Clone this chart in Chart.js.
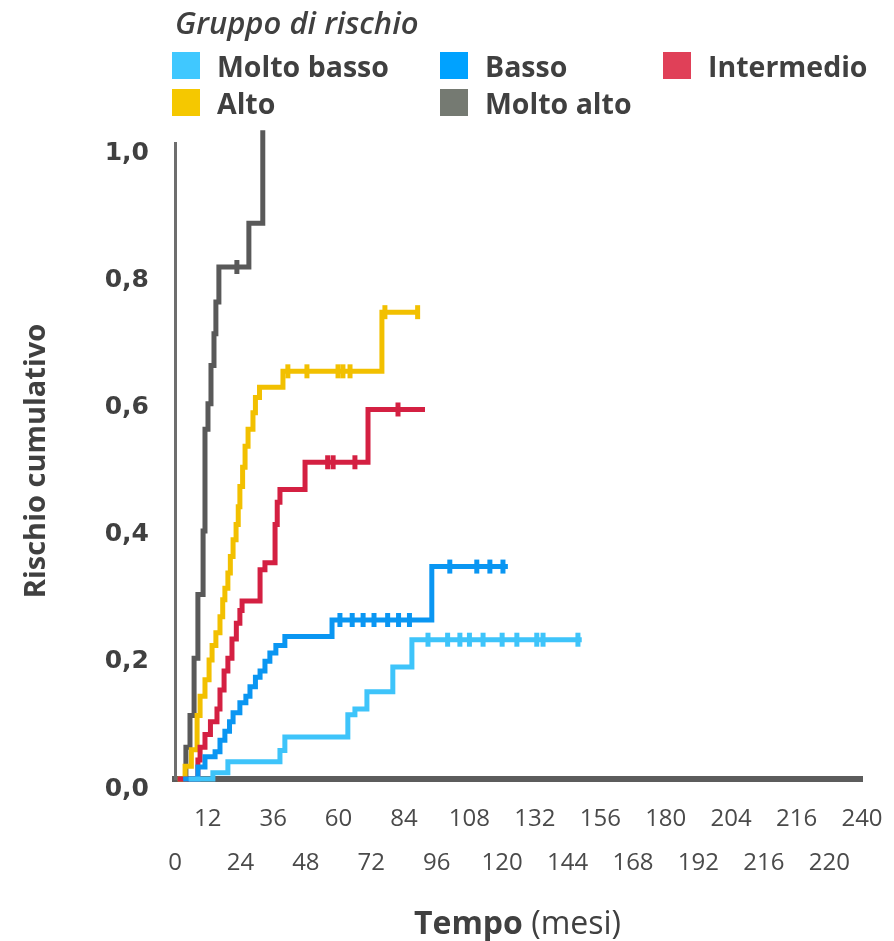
<!DOCTYPE html>
<html>
<head>
<meta charset="utf-8">
<script src="https://cdn.jsdelivr.net/npm/chart.js@4.4.1/dist/chart.umd.min.js"></script>
<style>
  body { margin: 0; background: #fff; font-family: 'Open Sans', sans-serif; color: #404040; }
  #wrap { position: relative; width: 894px; height: 941px; }
  canvas { position: absolute; left: 0; top: 0; }
  .legTitle { position: absolute; left: 175px; top: 0px; font-style: italic; font-weight: 600; font-size: 31px; line-height: 44px; }
  .item { position: absolute; font-weight: 700; font-size: 28.5px; height: 27px; display: flex; align-items: center; white-space: nowrap; }
  .sw { width: 28px; height: 27px; margin-right: 17px; flex: none; }
  #xtitle { position: absolute; left: 414px; top: 900px; font-size: 32px; line-height: 44px; white-space: nowrap; }
</style>
</head>
<body>
<div id="wrap">
  <canvas id="riskChart" width="894" height="941"></canvas>
  <div class="legTitle">Gruppo di rischio</div>
  <div id="legend"></div>
  <div id="xtitle"><b>Tempo</b> (mesi)</div>
</div>
<script>
// risk groups
const groups = ['Molto basso', 'Basso', 'Intermedio', 'Alto', 'Molto alto'];
const lineColors = ['#3ec4fa', '#0a96f2', '#d42042', '#f2c000', '#595959'];
const legendColors = ['#40c8ff', '#00a2ff', '#e04058', '#f5c800', '#757a72'];

// months / cumulative risk (step points)
const moltoBassoMesi = [5, 13.9, 19.4, 38.5, 40.3, 63.4, 66, 70.4, 79.9, 86.9, 149.2];
const moltoBassoRischio = [0, 0.01, 0.027, 0.045, 0.066, 0.101, 0.11, 0.137, 0.176, 0.219, 0.219];
const bassoMesi = [3, 8.4, 11, 14.7, 16.5, 18.3, 20, 21.3, 23.8, 26, 27.5, 29.5, 31.2, 33, 34.8, 37, 40.3, 57.6, 94.2, 122.1];
const bassoRischio = [0, 0.019, 0.035, 0.043, 0.061, 0.075, 0.09, 0.104, 0.12, 0.13, 0.145, 0.16, 0.17, 0.185, 0.198, 0.21, 0.224, 0.25, 0.334, 0.334];
const intermedioMesi = [1, 8.4, 9.2, 11, 13, 15.4, 16.5, 18, 19.4, 20.9, 22.5, 23.8, 24.6, 31.2, 33, 36.7, 37.5, 38.5, 47.7, 70.8, 91.7];
const intermedioRischio = [0, 0.03, 0.05, 0.07, 0.09, 0.11, 0.14, 0.17, 0.19, 0.22, 0.245, 0.265, 0.28, 0.329, 0.34, 0.40, 0.435, 0.455, 0.498, 0.581, 0.581];
const altoMesi = [1, 3.7, 6, 8.1, 9.2, 11, 12.5, 13.6, 15, 16.5, 17.5, 18.3, 19.4, 20.3, 21.3, 22.4, 23.2, 23.8, 24.8, 25.7, 26.8, 28.6, 29.5, 31, 39.6, 75.9, 89.8];
const altoRischio = [0, 0.02, 0.046, 0.1, 0.13, 0.156, 0.187, 0.21, 0.23, 0.255, 0.282, 0.30, 0.324, 0.35, 0.376, 0.40, 0.428, 0.46, 0.49, 0.523, 0.55, 0.576, 0.60, 0.616, 0.641, 0.734, 0.734];
const moltoAltoMesi = [1.5, 4, 5.5, 7, 8.4, 10.3, 11, 12.1, 13.2, 14.3, 15, 16.1, 27.1, 32.2];
const moltoAltoRischio = [0, 0.05, 0.1, 0.19, 0.29, 0.39, 0.55, 0.59, 0.65, 0.70, 0.75, 0.805, 0.874, 1.02];

// censored observations (months)
const moltoBassoCens = [92.8, 100, 104.5, 108, 113, 120, 125.4, 132.7, 135, 147.8];
const bassoCens = [60.5, 65, 69, 73, 78, 82, 86, 100.8, 110.7, 115.5, 120.3];
const intermedioCens = [56, 58, 66, 81.8];
const altoCens = [41.4, 48.4, 59.8, 61.6, 64.2, 77, 89];
const moltoAltoCens = [22.7];

const xTickLabels = ['0', '12', '24', '36', '48', '60', '72', '84', '96', '108', '120', '132', '144', '156', '168', '180', '192', '204', '216', '216', '220', '240'];
const yTickLabels = ['0,0', '0,2', '0,4', '0,6', '0,8', '1,0'];

const series = [
  [moltoBassoMesi, moltoBassoRischio, moltoBassoCens],
  [bassoMesi, bassoRischio, bassoCens],
  [intermedioMesi, intermedioRischio, intermedioCens],
  [altoMesi, altoRischio, altoCens],
  [moltoAltoMesi, moltoAltoRischio, moltoAltoCens]
];

function stepValue(ts, vs, t) {
  let v = vs[0];
  for (let i = 0; i < ts.length; i++) if (ts[i] <= t) v = vs[i];
  return v;
}

const datasets = [];
series.forEach((s, k) => {
  datasets.push({
    label: groups[k],
    data: s[0].map((t, i) => ({ x: t, y: s[1][i] })),
    borderColor: lineColors[k],
    borderWidth: 5,
    stepped: 'before', // horizontal first, then jump
    pointRadius: 0,
    fill: false,
    clip: false
  });
  datasets.push({
    label: groups[k] + ' censurati',
    data: s[2].map(t => ({ x: t, y: stepValue(s[0], s[1], t) })),
    showLine: false,
    pointStyle: 'line',
    rotation: 90,
    pointRadius: 7,
    borderWidth: 5,
    borderColor: lineColors[k],
    clip: false
  });
});

// legend
const legPos = [[172, 52], [440, 52], [663, 52], [172, 89], [440, 89]];
const leg = document.getElementById('legend');
groups.forEach((g, k) => {
  const d = document.createElement('div');
  d.className = 'item';
  d.style.left = legPos[k][0] + 'px';
  d.style.top = legPos[k][1] + 'px';
  d.innerHTML = '<span class="sw" style="background:' + legendColors[k] + '"></span>' + g;
  leg.appendChild(d);
});

const ctx = document.getElementById('riskChart');
new Chart(ctx, {
  type: 'line',
  data: { datasets: datasets },
  options: {
    responsive: false,
    animation: false,
    layout: { padding: { top: 143, right: 32, left: 0, bottom: 0 } },
    plugins: { legend: { display: false }, tooltip: { enabled: false } },
    scales: {
      x: {
        type: 'linear',
        min: 0,
        max: 252,
        grid: { display: false },
        border: { display: true, color: '#5c5c5c', width: 6 },
        afterFit: s => { s.height = 162; },
        ticks: {
          stepSize: 12,
          autoSkip: false,
          maxRotation: 0,
          padding: 11,
          color: '#4a4a4a',
          font: { family: 'Open Sans', size: 24, lineHeight: 1.8 },
          callback: (v, i) => i % 2 === 0 ? ['', xTickLabels[i]] : [xTickLabels[i], '']
        }
      },
      y: {
        min: 0,
        max: 1,
        grid: { display: false },
        border: { display: true, color: '#6e6e6e', width: 3 },
        afterFit: s => { s.width = 175; },
        title: {
          display: true,
          text: 'Rischio cumulativo',
          color: '#404040',
          font: { family: 'Open Sans', size: 29, weight: 'bold' },
          padding: { top: 19, bottom: 0 }
        },
        ticks: {
          stepSize: 0.2,
          padding: 18,
          labelOffset: 10,
          color: '#404040',
          font: { family: 'DejaVu Sans', size: 25, weight: 'bold' },
          callback: (v, i) => yTickLabels[i]
        }
      }
    }
  }
});
</script>
</body>
</html>
